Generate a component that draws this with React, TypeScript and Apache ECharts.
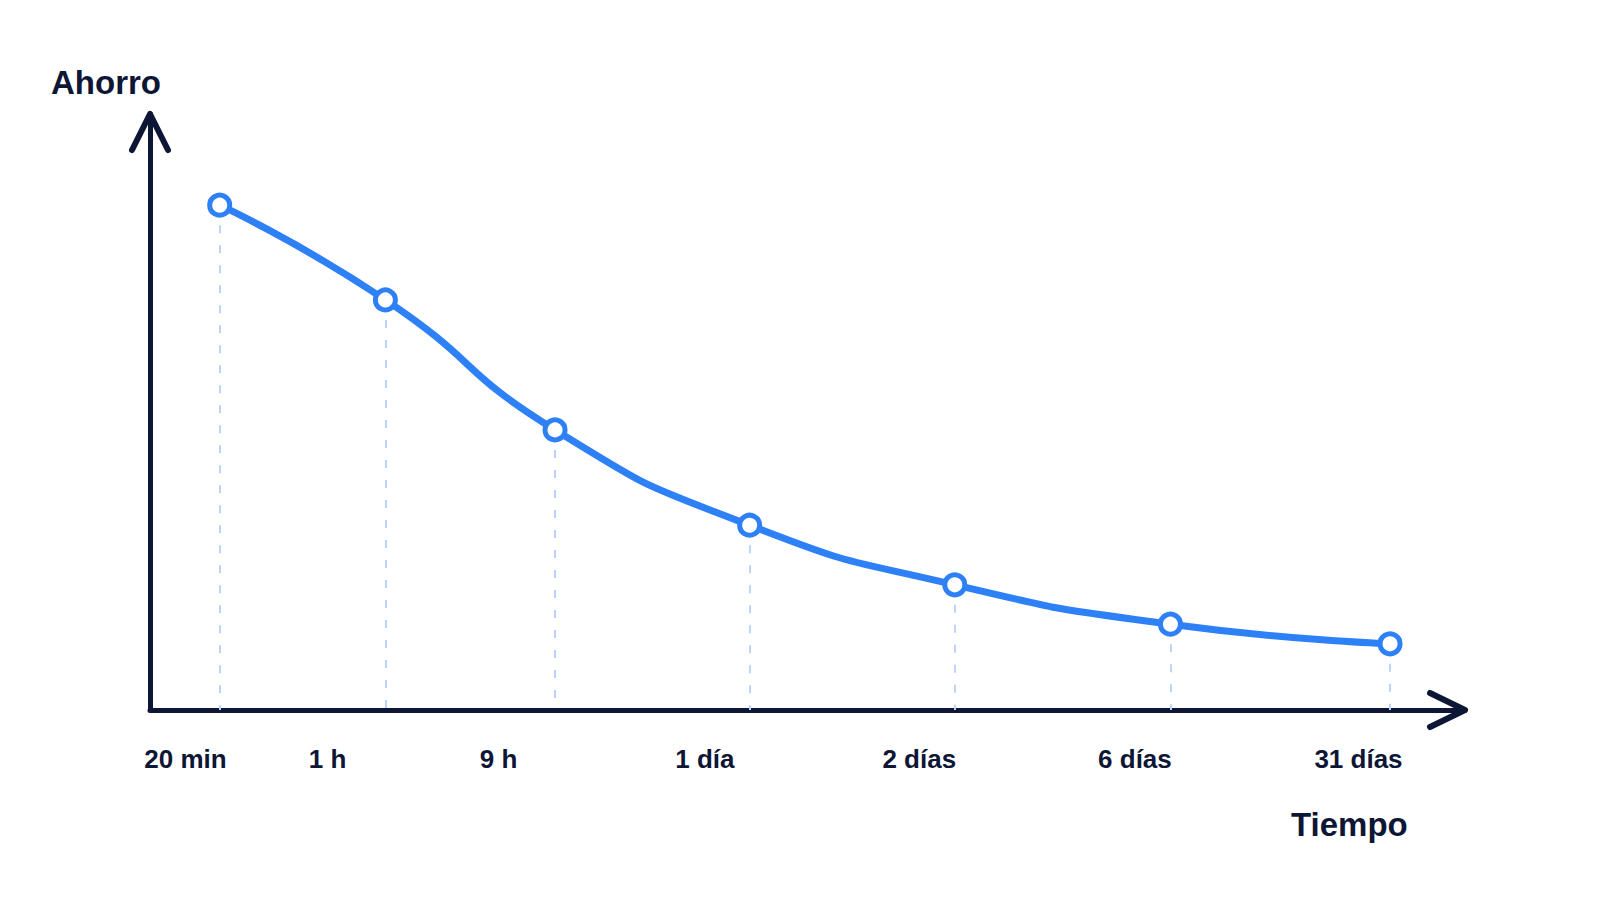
import React, { useEffect, useRef } from "react";
import * as echarts from "echarts";

// point positions along the time axis (arbitrary units, 0..100) and savings level
const pointX: number[] = [5.3, 17.9, 30.8, 45.6, 61.2, 77.6, 94.3];
const savings: number[] = [84.7, 68.8, 47.0, 31.0, 21.0, 14.4, 11.1];

// tick labels and where they sit on the time axis
const timeLabels: string[] = ["20 min", "1 h", "9 h", "1 día", "2 días", "6 días", "31 días"];
const labelX: number[] = [2.7, 13.5, 26.5, 42.2, 58.5, 74.9, 91.9];

const INK = "#0e1636";
const BLUE = "#2e80f7";
const FONT = "'Liberation Sans', Arial, sans-serif";

const GRID = { left: 150, top: 114, right: 135, bottom: 190 };
const W = 1600;
const H = 900;

const App: React.FC = () => {
  const chartRef = useRef<HTMLDivElement>(null);

  useEffect(() => {
    if (!chartRef.current) return;
    const chart = echarts.init(chartRef.current, undefined, { renderer: "svg" });

    const axisX0 = GRID.left;
    const axisX1 = W - GRID.right;
    const axisY0 = H - GRID.bottom;
    const axisY1 = GRID.top;

    const drops = pointX.map((x, i) => [
      { coord: [x, savings[i]] },
      { coord: [x, 0] },
    ]);

    const option: echarts.EChartsOption = {
      animation: false,
      backgroundColor: "#ffffff",
      grid: GRID,
      xAxis: {
        type: "value",
        min: 0,
        max: 100,
        splitLine: { show: false },
        axisTick: { show: false },
        axisLine: { show: true, lineStyle: { color: INK, width: 5, cap: "round" } },
        axisLabel: {
          customValues: labelX,
          formatter: (v: number) => {
            const i = labelX.indexOf(v);
            return i >= 0 ? timeLabels[i] : "";
          },
          margin: 36,
          color: INK,
          fontFamily: FONT,
          fontWeight: "bold",
          fontSize: 26,
        },
      },
      yAxis: {
        type: "value",
        min: 0,
        max: 100,
        splitLine: { show: false },
        axisTick: { show: false },
        axisLabel: { show: false },
        axisLine: { show: true, lineStyle: { color: INK, width: 5, cap: "round" } },
      },
      graphic: [
        {
          type: "polyline",
          shape: { points: [[axisX0 - 18, axisY1 + 36], [axisX0, axisY1], [axisX0 + 18, axisY1 + 36]] },
          style: { stroke: INK, lineWidth: 6, fill: "none", lineCap: "round", lineJoin: "round" },
        },
        {
          type: "polyline",
          shape: { points: [[axisX1 - 35, axisY0 - 17], [axisX1, axisY0], [axisX1 - 35, axisY0 + 17]] },
          style: { stroke: INK, lineWidth: 6, fill: "none", lineCap: "round", lineJoin: "round" },
        },
        {
          type: "text",
          left: 51,
          top: 66,
          style: { text: "Ahorro", fill: INK, font: `bold 33px ${FONT}` },
        },
        {
          type: "text",
          left: 1291,
          top: 808,
          style: { text: "Tiempo", fill: INK, font: `bold 33px ${FONT}` },
        },
      ],
      series: [
        {
          type: "line",
          data: pointX.map((x, i) => [x, savings[i]]),
          smooth: 0.55,
          symbol: "circle",
          symbolSize: 20,
          lineStyle: { color: BLUE, width: 7 },
          itemStyle: { color: "#ffffff", borderColor: BLUE, borderWidth: 5 },
          z: 5,
          markLine: {
            silent: true,
            symbol: "none",
            label: { show: false },
            lineStyle: { color: "#bcd4fa", width: 2, type: [8, 12] },
            data: drops as any,
          },
        },
      ],
    };

    chart.setOption(option);
    return () => {
      chart.dispose();
    };
  }, []);

  return (
    <div
      ref={chartRef}
      style={{ position: "fixed", left: 0, top: 0, width: W + "px", height: H + "px" }}
    />
  );
};

export default App;
